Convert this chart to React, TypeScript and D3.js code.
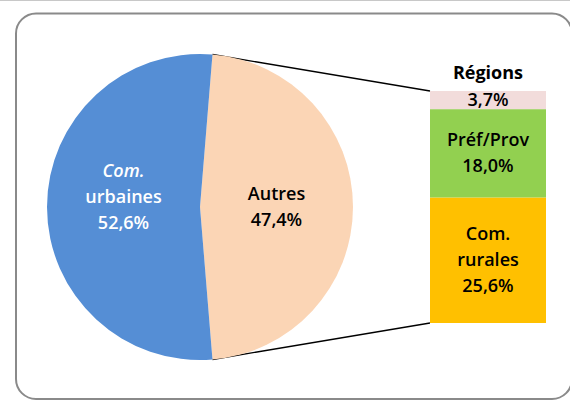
import React from "react";
import * as d3 from "d3";

const pieCategories = ["Autres", "Com. urbaines"];
const pieValues = [47.4, 52.6];
const pieLabels = [["Autres", "47,4%"], ["Com.", "urbaines", "52,6%"]];
const pieColors = ["#FBD5B5", "#558ED5"];
const pieTextColors = ["#000000", "#FFFFFF"];

const barCategories = ["Com. rurales", "Préf/Prov", "Régions"];
const barValues = [25.6, 18.0, 3.7];
const barLabels = [["Com.", "rurales", "25,6%"], ["Préf/Prov", "18,0%"], ["3,7%"]];
const barColors = ["#FFC000", "#92D050", "#F2DCDB"];

const W = 570;
const H = 410;
const FONT = "'Open Sans', 'Noto Sans', sans-serif";

export default function App() {
  const cx = 200;
  const cy = 207;
  const r = 153;
  const aAutres = (pieValues[0] / d3.sum(pieValues)) * 2 * Math.PI;
  const start = Math.PI / 2 - aAutres / 2;
  const pie = d3
    .pie<number>()
    .sort(null)
    .value((d) => d)
    .startAngle(start)
    .endAngle(start + 2 * Math.PI);
  const arcs = pie(pieValues);
  const arc = d3.arc<d3.PieArcDatum<number>>().innerRadius(0).outerRadius(r);

  const total = d3.sum(barValues);
  const y = d3.scaleLinear().domain([0, total]).range([323, 91]);
  const x = d3.scaleBand().domain(["bar"]).range([430, 546]).padding(0);
  const bx = x("bar")!;
  const bw = x.bandwidth();
  let acc = 0;
  const segs = barValues.map((v, i) => {
    const s = { y0: acc, y1: acc + v, i };
    acc += v;
    return s;
  });

  const pt = (ang: number) => [cx + r * Math.sin(ang), cy - r * Math.cos(ang)];
  const pTop = pt(arcs[0].startAngle);
  const pBot = pt(arcs[0].endAngle);

  const lineH = 26;
  const fs = 18;
  const pieDy = [0, -10];

  return (
    <svg width={W} height={H} style={{ position: "absolute", left: 0, top: 0 }} fontFamily={FONT}>
      <rect x={0} y={0} width={W} height={H} fill="#fff" />
      <line x1={0} x2={W} y1={0.5} y2={0.5} stroke="#c8c8c8" strokeWidth={1} />
      <rect x={16} y={13.5} width={556} height={385.5} rx={20} ry={20} fill="#fff" stroke="#8a8a8a" strokeWidth={2} />

      <line x1={pTop[0]} y1={pTop[1]} x2={bx} y2={y(total)} stroke="#000" strokeWidth={1.3} />
      <line x1={pBot[0]} y1={pBot[1]} x2={bx} y2={y(0)} stroke="#000" strokeWidth={1.3} />

      <g transform={`translate(${cx},${cy})`}>
        {arcs.map((a, i) => (
          <path key={pieCategories[i]} d={arc(a) || ""} fill={pieColors[i]} />
        ))}
        {arcs.map((a, i) => {
          const [lx, ly] = arc.centroid(a);
          const lines = pieLabels[i];
          const off = ((lines.length - 1) * lineH) / 2;
          return (
            <text key={"t" + i} textAnchor="middle" fontSize={fs} fontWeight={600} fill={pieTextColors[i]}>
              {lines.map((l, k) => (
                <tspan
                  key={k}
                  x={lx}
                  y={ly + pieDy[i] - off + k * lineH + 6}
                  fontStyle={i === 1 && k === 0 ? "italic" : "normal"}
                >
                  {l}
                </tspan>
              ))}
            </text>
          );
        })}
      </g>

      {segs.map((s) => (
        <rect key={barCategories[s.i]} x={bx} width={bw} y={y(s.y1)} height={y(s.y0) - y(s.y1)} fill={barColors[s.i]} />
      ))}
      {segs.map((s) => {
        const lines = barLabels[s.i];
        const my = (y(s.y0) + y(s.y1)) / 2;
        const off = ((lines.length - 1) * lineH) / 2;
        return (
          <text key={"bt" + s.i} textAnchor="middle" fontSize={fs} fontWeight={600} fill="#000">
            {lines.map((l, k) => (
              <tspan key={k} x={bx + bw / 2} y={my - off + k * lineH + 6}>
                {l}
              </tspan>
            ))}
          </text>
        );
      })}
      <text x={bx + bw / 2} y={y(total) - 12} textAnchor="middle" fontSize={fs} fontWeight={700} fill="#000">
        Régions
      </text>
    </svg>
  );
}
